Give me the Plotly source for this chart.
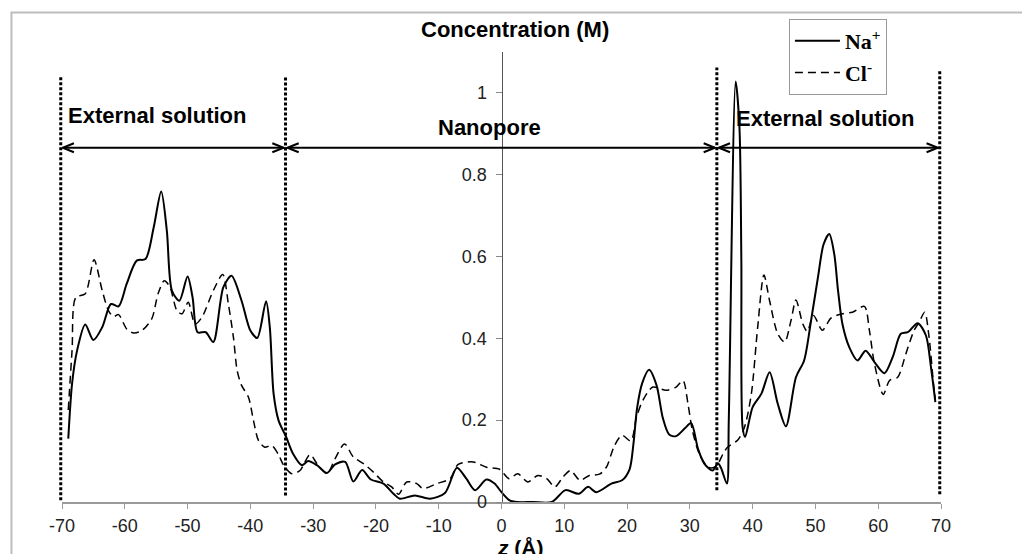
import plotly.graph_objects as go

# Ion concentration profiles along the pore axis z (Å)
z_na = [-69.0, -68.4, -67.6, -66.3, -65.0, -63.6, -62.2, -61.0, -59.7, -58.1,
        -56.7, -55.4, -54.2, -53.3, -52.5, -51.3, -50.0, -49.2, -48.4, -47.1,
        -45.9, -44.3, -43.0, -41.4, -40.0, -38.9, -37.5, -36.9, -36.3, -35.5,
        -34.3, -33.2, -31.8, -30.8, -29.4, -27.8, -26.5, -24.9, -23.6, -22.2,
        -20.8, -18.8, -17.2, -16.2, -13.8, -11.4, -9.0, -7.1, -5.6, -4.2,
        -2.4, -1.1, 0.0, 1.3, 2.5, 5.0, 8.0, 10.2, 12.3, 13.8,
        15.1, 17.5, 19.2, 20.4, 21.0, 21.6, 22.4, 23.5, 24.7, 25.7,
        26.7, 27.8, 29.2, 30.2, 31.3, 32.3, 33.6, 34.5, 35.0, 35.9,
        36.2, 37.3, 37.9, 38.2, 38.4, 38.8, 40.0, 41.4, 42.7, 44.0,
        45.3, 46.9, 48.2, 49.3, 50.4, 51.3, 52.2, 53.0, 53.6, 54.3,
        55.4, 56.7, 58.0, 59.4, 61.0, 62.3, 63.6, 64.7, 66.3, 67.6,
        68.4, 69.1]
c_na = [0.155, 0.289, 0.370, 0.434, 0.396, 0.427, 0.484, 0.478, 0.533, 0.590,
        0.594, 0.671, 0.759, 0.663, 0.517, 0.492, 0.551, 0.500, 0.415, 0.415,
        0.391, 0.525, 0.553, 0.492, 0.419, 0.401, 0.491, 0.427, 0.265, 0.199,
        0.159, 0.118, 0.090, 0.100, 0.090, 0.071, 0.092, 0.098, 0.050, 0.078,
        0.055, 0.045, 0.020, 0.008, 0.016, 0.008, 0.022, 0.084, 0.057, 0.029,
        0.055, 0.045, 0.024, 0.004, 0.000, 0.000, 0.000, 0.029, 0.020, 0.037,
        0.024, 0.045, 0.053, 0.080, 0.140, 0.230, 0.290, 0.323, 0.285, 0.205,
        0.165, 0.161, 0.180, 0.193, 0.130, 0.094, 0.077, 0.094, 0.082, 0.045,
        0.200, 1.028, 0.915, 0.590, 0.183, 0.159, 0.232, 0.265, 0.317, 0.240,
        0.185, 0.305, 0.346, 0.443, 0.549, 0.630, 0.655, 0.606, 0.517, 0.435,
        0.378, 0.346, 0.370, 0.342, 0.315, 0.354, 0.411, 0.415, 0.437, 0.407,
        0.330, 0.244]

z_cl = [-69.0, -68.4, -67.8, -66.3, -64.9, -63.6, -62.6, -61.8, -61.0, -59.7,
        -58.6, -57.3, -55.7, -54.7, -53.7, -52.8, -51.7, -50.9, -49.9, -48.8,
        -47.7, -45.9, -44.4, -43.5, -42.7, -42.1, -41.4, -40.3, -39.5, -38.7,
        -37.7, -36.6, -35.5, -34.7, -33.4, -32.1, -30.5, -29.4, -27.8, -26.5,
        -25.0, -23.6, -22.0, -20.4, -18.8, -17.5, -16.4, -15.1, -13.5, -12.5,
        -10.3, -8.2, -6.9, -4.5, -2.4, -0.3, 1.2, 2.6, 4.2, 5.8,
        7.2, 8.5, 9.8, 11.0, 12.5, 14.0, 15.6, 16.7, 18.0, 19.2,
        20.6, 21.5, 22.5, 24.1, 26.2, 27.8, 28.9, 29.7, 30.4, 31.5,
        32.9, 33.9, 34.5, 35.3, 36.0, 37.6, 38.7, 39.8, 40.8, 41.8,
        42.7, 44.0, 45.1, 46.1, 46.9, 48.0, 48.7, 49.7, 51.1, 52.5,
        54.3, 55.9, 57.8, 58.6, 59.4, 60.8, 61.8, 63.1, 64.4, 65.7,
        66.5, 67.4, 68.1, 68.8, 69.1]
c_cl = [0.225, 0.370, 0.500, 0.509, 0.592, 0.517, 0.468, 0.453, 0.458, 0.423,
        0.413, 0.419, 0.448, 0.509, 0.541, 0.525, 0.468, 0.460, 0.488, 0.435,
        0.452, 0.517, 0.556, 0.484, 0.403, 0.321, 0.285, 0.256, 0.199, 0.150,
        0.134, 0.138, 0.115, 0.090, 0.069, 0.077, 0.116, 0.094, 0.069, 0.106,
        0.142, 0.110, 0.094, 0.073, 0.049, 0.037, 0.019, 0.049, 0.045, 0.033,
        0.045, 0.057, 0.092, 0.098, 0.085, 0.080, 0.057, 0.069, 0.049, 0.065,
        0.057, 0.037, 0.061, 0.077, 0.053, 0.065, 0.068, 0.085, 0.138, 0.163,
        0.149, 0.207, 0.248, 0.281, 0.273, 0.281, 0.297, 0.240, 0.175, 0.118,
        0.085, 0.085, 0.094, 0.118, 0.134, 0.151, 0.183, 0.265, 0.427, 0.555,
        0.492, 0.411, 0.391, 0.443, 0.494, 0.435, 0.417, 0.456, 0.420, 0.450,
        0.460, 0.464, 0.478, 0.419, 0.338, 0.263, 0.297, 0.305, 0.362, 0.419,
        0.439, 0.464, 0.403, 0.289, 0.250]

# Region boundaries (dotted dividers) and their vertical extents
divider_z = [-70.2, -34.4, 34.3, 69.8]
divider_top = [1.041, 1.041, 1.062, 1.054]
divider_bottom = [0.004, 0.016, 0.029, 0.019]

# Region arrows and labels
arrow_c = 0.866
region_names = ["External solution", "Nanopore", "External solution"]
region_label_z = [-54.8, -1.9, 51.5]
region_label_c = [0.944, 0.915, 0.937]

z_range = [-70, 70]
c_range = [0, 1.1]
x_ticks = list(range(-70, 71, 10))
x_ticktext = [str(v) for v in x_ticks]  # plain hyphen-minus
y_ticks = [0, 0.2, 0.4, 0.6, 0.8, 1]
y_ticktext = ["0", "0.2", "0.4", "0.6", "0.8", "1"]


def z_to_paper(zx):
    # dividers sit on the plot edge, so place them in paper units to avoid clipping
    return (zx - z_range[0]) / (z_range[1] - z_range[0])


fig = go.Figure()
fig.add_trace(go.Scatter(
    x=z_na, y=c_na, mode="lines", name="<b>Na<sup>+</sup></b>",
    line=dict(color="black", width=2, shape="spline", smoothing=0.8),
))
fig.add_trace(go.Scatter(
    x=z_cl, y=c_cl, mode="lines", name="<b>Cl<sup>-</sup></b>",
    line=dict(color="black", width=1.5, dash="8px,5px", shape="spline", smoothing=0.8),
))

shapes = []
# dotted dividers
for zx, top, bot in zip(divider_z, divider_top, divider_bottom):
    px = z_to_paper(zx)
    shapes.append(dict(type="line", xref="paper", yref="y", x0=px, x1=px, y0=bot, y1=top,
                       line=dict(color="black", width=3, dash="3px,2px")))

# double-headed arrows between dividers
head_dx, head_dy, gap = 1.8, 0.011, 0.3
for left, right in zip(divider_z[:-1], divider_z[1:]):
    a, b = left + gap, right - gap
    shapes.append(dict(type="line", xref="x", yref="y", x0=a, x1=b, y0=arrow_c, y1=arrow_c,
                       line=dict(color="black", width=2)))
    shapes.append(dict(type="path", xref="x", yref="y",
                       path=f"M{a + head_dx},{arrow_c + head_dy} L{a},{arrow_c} L{a + head_dx},{arrow_c - head_dy}",
                       line=dict(color="black", width=2)))
    shapes.append(dict(type="path", xref="x", yref="y",
                       path=f"M{b - head_dx},{arrow_c + head_dy} L{b},{arrow_c} L{b - head_dx},{arrow_c - head_dy}",
                       line=dict(color="black", width=2)))

# outer frame
shapes.append(dict(type="rect", xref="paper", yref="paper", x0=-0.0575, x1=1.2, y0=-0.2, y1=1.0878,
                   line=dict(color="#bdbdbd", width=2), layer="below"))

label_font = dict(family="Liberation Sans, Arial", size=22, color="black")
annotations = []
for name, zx, cy in zip(region_names, region_label_z, region_label_c):
    annotations.append(dict(x=zx, y=cy, xref="x", yref="y", text=f"<b>{name}</b>",
                            showarrow=False, xanchor="center", yanchor="middle",
                            font=label_font))
annotations.append(dict(x=0.515, y=1.051, xref="paper", yref="paper",
                        text="<b>Concentration (M)</b>", showarrow=False,
                        xanchor="center", yanchor="middle", font=label_font))
annotations.append(dict(x=0.522, y=-0.1, xref="paper", yref="paper",
                        text="<b><i>z</i> (Å)</b>", showarrow=False,
                        xanchor="center", yanchor="middle",
                        font=dict(family="Liberation Sans, Arial", size=21, color="black")))

tick_font = dict(family="Liberation Sans, Arial", size=18, color="#222")
fig.update_layout(
    width=1022, height=554,
    margin=dict(l=62, r=81, t=52, b=52),
    paper_bgcolor="white", plot_bgcolor="white",
    shapes=shapes, annotations=annotations,
    xaxis=dict(range=z_range, tickvals=x_ticks, ticktext=x_ticktext, showline=True,
               linecolor="#9a9a9a", linewidth=2, ticks="outside", ticklen=5,
               tickcolor="#9a9a9a", showgrid=False, zeroline=False, tickfont=tick_font,
               ticklabelstandoff=1),
    yaxis=dict(range=c_range, anchor="free", position=0.5, tickvals=y_ticks,
               ticktext=y_ticktext, showline=True, linecolor="#555", linewidth=1,
               ticks="outside", ticklen=6, tickcolor="#888", showgrid=False,
               zeroline=False, tickfont=tick_font, ticklabelstandoff=5),
    legend=dict(x=0.827, y=1.0733, xanchor="left", yanchor="top", bgcolor="white",
                bordercolor="#999", borderwidth=1, itemwidth=45,
                font=dict(family="Liberation Serif, Times New Roman", size=22, color="black")),
    showlegend=True,
)

fig.write_html("out.html")
